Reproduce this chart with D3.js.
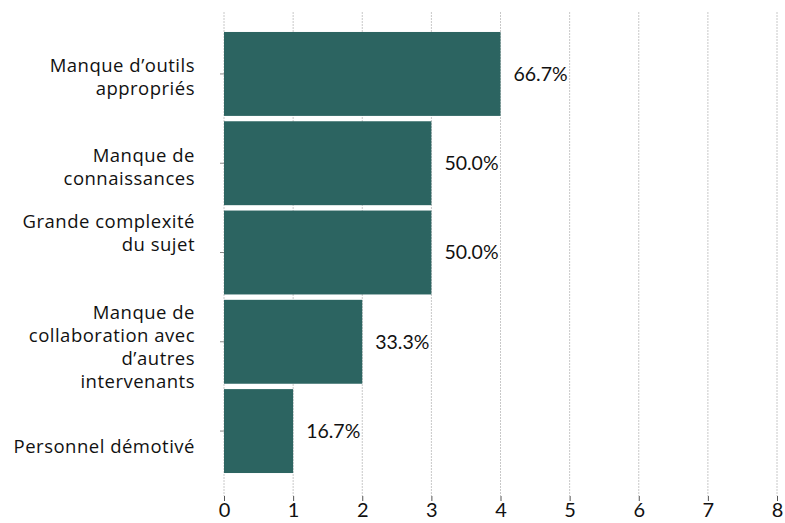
<!DOCTYPE html>
<html>
<head>
<meta charset="utf-8">
<script src="https://cdn.jsdelivr.net/npm/d3@7"></script>
<style>
  body { margin: 0; background: #fff; }
  svg { display: block; }
</style>
</head>
<body>
<svg id="chart" width="785" height="523"></svg>
<script>
// categories (one array of lines per label), counts, percent labels
var categories = [
  ["Manque d\u2019outils", "appropriés"],
  ["Manque de", "connaissances"],
  ["Grande complexité", "du sujet"],
  ["Manque de", "collaboration avec", "d\u2019autres", "intervenants"],
  ["Personnel démotivé"]
];
var counts = [4, 3, 3, 2, 1];
var percents = ["66.7%", "50.0%", "50.0%", "33.3%", "16.7%"];
var xTicks = [0, 1, 2, 3, 4, 5, 6, 7, 8];
// label vertical shift vs band centre, as seen in the original
var labelShift = [3, 4, -19, 5, 15];

var svg = d3.select("#chart");
var barColor = "#2c6461";

var x = d3.scaleLinear()
    .domain([0, 8])
    .range([224, 777]);

var y = d3.scaleBand()
    .domain(d3.range(counts.length))
    .range([29.3, 475.7])
    .paddingInner(0.06)
    .paddingOuter(0.03);

// grid lines
svg.append("g")
  .selectAll("line")
  .data(xTicks)
  .join("line")
    .attr("x1", d => x(d)).attr("x2", d => x(d))
    .attr("y1", 12).attr("y2", 496)
    .style("stroke", "#c8c8c8")
    .style("stroke-width", "1px")
    .style("stroke-dasharray", "2,1");

// x axis
var xAxis = svg.append("g")
    .attr("transform", "translate(0,496)")
    .call(d3.axisBottom(x).tickValues(xTicks).tickSize(5).tickPadding(2).tickFormat(d3.format("d")));
xAxis.select(".domain").remove();
xAxis.selectAll(".tick line").style("stroke", "#555");
xAxis.selectAll("text")
    .style("font-family", "Lato, sans-serif")
    .style("font-size", "20px")
    .style("fill", "#111");

// y ticks (small marks at band centres)
svg.append("g")
  .selectAll("line")
  .data(counts)
  .join("line")
    .attr("x1", x(0) - 4).attr("x2", x(0))
    .attr("y1", (d, i) => y(i) + y.bandwidth() / 2)
    .attr("y2", (d, i) => y(i) + y.bandwidth() / 2)
    .style("stroke", "#888")
    .style("stroke-width", "1px");

// bars
svg.append("g")
  .selectAll("rect")
  .data(counts)
  .join("rect")
    .attr("x", x(0))
    .attr("y", (d, i) => y(i))
    .attr("width", d => x(d) - x(0))
    .attr("height", y.bandwidth())
    .style("fill", barColor);

// value labels
svg.append("g")
  .selectAll("text")
  .data(counts)
  .join("text")
    .attr("x", d => x(d) + 13)
    .attr("y", (d, i) => y(i) + y.bandwidth() / 2)
    .attr("dy", "0.35em")
    .style("font-family", "Lato, sans-serif")
    .style("font-size", "19.5px")
    .style("fill", "#111")
    .text((d, i) => percents[i]);

// category labels
var lineH = 23;
var labels = svg.append("g")
  .selectAll("text")
  .data(categories)
  .join("text")
    .attr("text-anchor", "end")
    .style("font-family", "'Open Sans', sans-serif")
    .style("font-size", "18.5px")
    .style("letter-spacing", "0.5px")
    .style("fill", "#111")
    .attr("transform", (d, i) => {
      var cy = y(i) + y.bandwidth() / 2 + labelShift[i] - (d.length - 1) * lineH / 2;
      return "translate(195," + cy + ")";
    });

labels.selectAll("tspan")
  .data(d => d)
  .join("tspan")
    .attr("x", 0)
    .attr("y", (d, j) => j * lineH)
    .attr("dy", "0.35em")
    .text(d => d);
</script>
</body>
</html>
